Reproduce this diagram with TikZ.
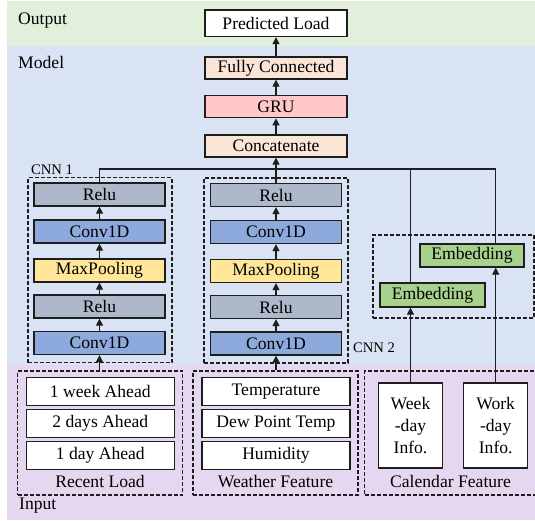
\documentclass[tikz,border=0pt]{standalone}
\usepackage{fontspec}
\setmainfont{Liberation Serif}
\usetikzlibrary{arrows.meta}
\definecolor{bandG}{HTML}{E2EFDA}
\definecolor{bandB}{HTML}{DAE3F3}
\definecolor{bandP}{HTML}{E5D7F0}
\definecolor{peach}{HTML}{FBE5D6}
\definecolor{grured}{HTML}{FFC7C7}
\definecolor{relugray}{HTML}{ADB9CA}
\definecolor{convblue}{HTML}{8EA9DB}
\definecolor{poolyellow}{HTML}{FFE699}
\definecolor{embgreen}{HTML}{A9D18E}
\definecolor{linec}{HTML}{1E1E1E}
\begin{document}
\begin{tikzpicture}[x=1pt,y=-1pt,
  font=\fontsize{17.6}{22}\selectfont,
  blk/.style={draw=linec, line width=1.3pt, inner sep=0pt, minimum height=23pt},
  cnnbox/.style={blk, minimum width=131pt},
  inbox/.style={blk, fill=white, minimum width=148pt, minimum height=28pt},
  calbox/.style={blk, fill=white, minimum width=64pt, minimum height=85pt, align=center},
  grp/.style={draw=linec, line width=1.1pt, dash pattern=on 4pt off 2pt, inner sep=0pt},
  conn/.style={draw=linec, line width=1.3pt},
  arr/.style={conn, -{Triangle[width=7pt,length=7pt]}},
  lbl/.style={inner sep=0pt, anchor=base west},
  cnnlbl/.style={lbl, font=\fontsize{14.6}{17}\selectfont}]
\useasboundingbox (0,0) rectangle (535,520);
\begin{scope}
\clip (0,0) rectangle (535,520);
% bands
\fill[bandG] (7,1) rectangle (535,46);
\fill[bandB] (7,46) rectangle (535,365);
\fill[bandP] (7,365) rectangle (535,520);
% band labels
\node[lbl] (outlbl) at (18,24) {Output};
\node[lbl] (modlbl) at (18,68) {Model};
\node[lbl] (inlbl) at (19,509) {Input};
\node[cnnlbl] (cnn1lbl) at (31,174) {CNN 1};
\node[cnnlbl] (cnn2lbl) at (353,352) {CNN 2};
% dashed groups
\node[grp, minimum width=144pt, minimum height=185pt] (cnn1) at (100,270) {};
\node[grp, minimum width=144pt, minimum height=185pt] (cnn2) at (276,270.5) {};
\node[grp, minimum width=161pt, minimum height=83pt] (embg) at (453.5,276.5) {};
\node[grp, minimum width=165pt, minimum height=124pt] (recent) at (100,433) {};
\node[grp, minimum width=165pt, minimum height=124pt] (weather) at (275.5,433) {};
\node[grp, minimum width=172.5pt, minimum height=124pt] (calendar) at (450.75,433) {};
% top stack
\node[blk, fill=white, minimum width=142pt, minimum height=26.5pt] (pred) at (276,23.3) {Predicted Load};
\node[blk, fill=peach, minimum width=142pt, minimum height=22pt] (fc) at (276,68) {Fully Connected};
\node[blk, fill=grured, minimum width=142pt, minimum height=22pt] (gru) at (276,106.7) {GRU};
\node[blk, fill=peach, minimum width=142pt, minimum height=22pt] (cat) at (276,146) {Concatenate};
% CNN 1
\node[cnnbox, fill=relugray] (r1a) at (99.5,194.5) {Relu};
\node[cnnbox, fill=convblue] (c1a) at (99.5,231.5) {Conv1D};
\node[cnnbox, fill=poolyellow] (m1) at (99.5,270.5) {MaxPooling};
\node[cnnbox, fill=relugray] (r1b) at (99.5,306.5) {Relu};
\node[cnnbox, fill=convblue] (c1b) at (99.5,343) {Conv1D};
% CNN 2
\node[cnnbox, fill=relugray] (r2a) at (276,195) {Relu};
\node[cnnbox, fill=convblue] (c2a) at (276,232) {Conv1D};
\node[cnnbox, fill=poolyellow] (m2) at (276,271) {MaxPooling};
\node[cnnbox, fill=relugray] (r2b) at (276,307) {Relu};
\node[cnnbox, fill=convblue] (c2b) at (276,343.5) {Conv1D};
% embeddings
\node[blk, fill=embgreen, minimum width=104pt] (emb2) at (472,255.5) {Embedding};
\node[blk, fill=embgreen, minimum width=105pt, minimum height=24pt] (emb1) at (432.5,295) {Embedding};
% inputs
\node[inbox] (wk) at (100.3,391.5) {1 week Ahead};
\node[inbox] (d2) at (100.3,423.5) {2 days Ahead};
\node[inbox] (d1) at (100.3,455.5) {1 day Ahead};
\node[inbox] (temp) at (276,391.5) {Temperature};
\node[inbox] (dew) at (276,423.5) {Dew Point Temp};
\node[inbox] (hum) at (276,455.5) {Humidity};
\node[calbox] (weekday) at (410.5,425.5) {Week\\-day\\Info.};
\node[calbox] (workday) at (495.7,425.5) {Work\\-day\\Info.};
% group labels
\node[inner sep=0pt, anchor=base] (rllbl) at (100,487) {Recent Load};
\node[inner sep=0pt, anchor=base] (wflbl) at (275.5,487) {Weather Feature};
\node[inner sep=0pt, anchor=base] (cflbl) at (450.5,487) {Calendar Feature};
% connectors: top stack
\draw[arr] (fc.north) -- (pred.south);
\draw[arr] (gru.north) -- (fc.south);
\draw[arr] (cat.north) -- (gru.south);
% CNN internal
\draw[arr] (c1b.north) -- (r1b.south);
\draw[arr] (r1b.north) -- (m1.south);
\draw[arr] (m1.north) -- (c1a.south);
\draw[arr] (c1a.north) -- (r1a.south);
\draw[arr] (c2b.north) -- (r2b.south);
\draw[arr] (r2b.north) -- (m2.south);
\draw[arr] (m2.north) -- (c2a.south);
\draw[arr] (c2a.north) -- (r2a.south);
% inputs to CNNs
\draw[arr] (c1b.south |- recent.north) -- (c1b.south);
\draw[arr] (c2b.south |- weather.north) -- (c2b.south);
% calendar to embeddings
\draw[arr] (weekday.north) -- (weekday.north |- emb1.south);
\draw[arr] (workday.north) -- (workday.north |- emb2.south);
% bus
\coordinate (busY) at (0,169);
\draw[conn] (r1a.north) -- (r1a.north |- busY) -- (workday.north |- busY) -- (workday.north |- emb2.north);
\draw[conn] (r2a.north) -- (r2a.north |- busY);
\draw[conn] (weekday.north |- emb1.north) -- (weekday.north |- busY);
\draw[arr] (r2a.north |- busY) -- (cat.south);
\end{scope}
\end{tikzpicture}
\end{document}
